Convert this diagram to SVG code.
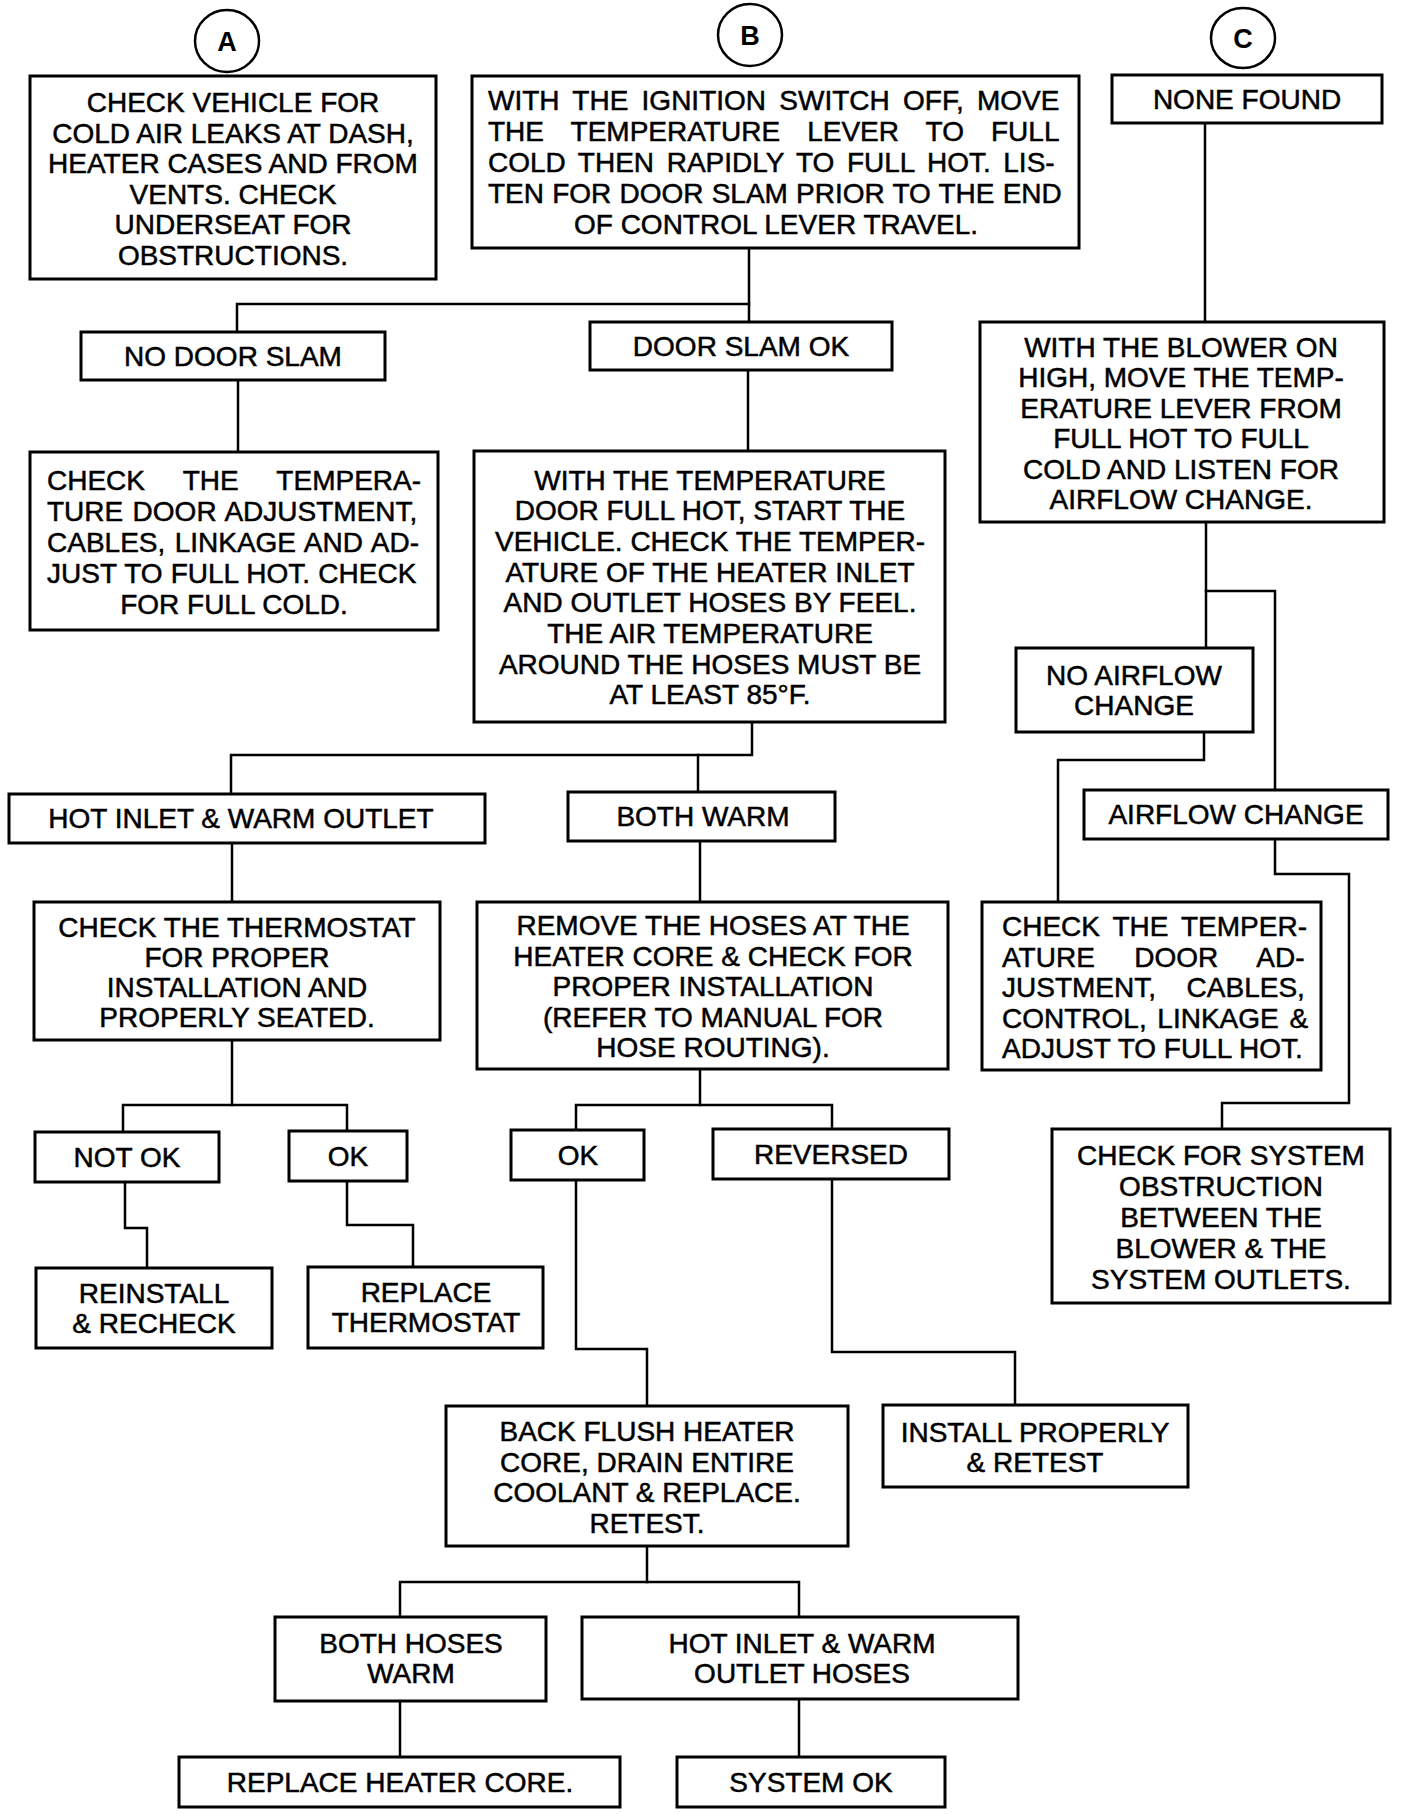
<svg xmlns="http://www.w3.org/2000/svg" width="1408" height="1814" viewBox="0 0 1408 1814">
<style>
.box{fill:#fff;stroke:#000;stroke-width:3}
.cir{fill:#fff;stroke:#000;stroke-width:2.5}
.c{fill:none;stroke:#000;stroke-width:2.5;stroke-linejoin:miter;stroke-linecap:square}
text{font-family:"Liberation Sans",Arial,Helvetica,sans-serif;font-size:28px;fill:#000;stroke:#000;stroke-width:0.5}
.m{text-anchor:middle}
.l{text-anchor:start}
.lt{font-weight:bold;font-size:27px;text-anchor:middle;stroke-width:0}
</style>
<rect width="1408" height="1814" fill="#fff"/>
<g id="connectors">
<polyline class="c" points="749,248 749,322"/>
<polyline class="c" points="749,304 237,304 237,332"/>
<polyline class="c" points="238,380 238,452"/>
<polyline class="c" points="748,370 748,451"/>
<polyline class="c" points="752,722 752,755 231,755 231,794"/>
<polyline class="c" points="698,755 698,792"/>
<polyline class="c" points="232,843 232,902"/>
<polyline class="c" points="700,841 700,902"/>
<polyline class="c" points="232,1040 232,1105"/>
<polyline class="c" points="123,1132 123,1105 347,1105 347,1131"/>
<polyline class="c" points="125,1182 125,1228 147,1228 147,1268"/>
<polyline class="c" points="347,1181 347,1225 413,1225 413,1267"/>
<polyline class="c" points="700,1069 700,1105"/>
<polyline class="c" points="576,1130 576,1105 832,1105 832,1129"/>
<polyline class="c" points="576,1180 576,1349 647,1349 647,1406"/>
<polyline class="c" points="832,1179 832,1352 1015,1352 1015,1405"/>
<polyline class="c" points="647,1546 647,1582"/>
<polyline class="c" points="400,1617 400,1582 799,1582 799,1617"/>
<polyline class="c" points="400,1701 400,1757"/>
<polyline class="c" points="799,1699 799,1757"/>
<polyline class="c" points="1205,123 1205,322"/>
<polyline class="c" points="1206,522 1206,648"/>
<polyline class="c" points="1206,591 1275,591 1275,790"/>
<polyline class="c" points="1204,732 1204,760 1058,760 1058,902"/>
<polyline class="c" points="1275,839 1275,874 1349,874 1349,1103 1222,1103 1222,1129"/>
</g>
<g id="circleA"><ellipse class="cir" cx="227" cy="41" rx="32" ry="31"/><text class="lt" x="227" y="51">A</text></g>
<g id="circleB"><ellipse class="cir" cx="750" cy="35" rx="32" ry="31"/><text class="lt" x="750" y="45">B</text></g>
<g id="circleC"><ellipse class="cir" cx="1243" cy="38" rx="32" ry="30"/><text class="lt" x="1243" y="48">C</text></g>

<g id="checkVehicle"><rect class="box" x="30" y="76" width="406" height="203"/>
<text class="m" x="233"><tspan x="233" y="112">CHECK VEHICLE FOR</tspan><tspan x="233" y="143">COLD AIR LEAKS AT DASH,</tspan><tspan x="233" y="173">HEATER CASES AND FROM</tspan><tspan x="233" y="204">VENTS. CHECK</tspan><tspan x="233" y="234">UNDERSEAT FOR</tspan><tspan x="233" y="265">OBSTRUCTIONS.</tspan></text></g>

<g id="ignitionOff"><rect class="box" x="472" y="76" width="607" height="172"/>
<text class="l" x="488" y="110" style="word-spacing:5.5px">WITH THE IGNITION SWITCH OFF, MOVE</text>
<text class="l" x="488" y="141" style="word-spacing:19.3px">THE TEMPERATURE LEVER TO FULL</text>
<text class="l" x="488" y="172" style="word-spacing:4.8px">COLD THEN RAPIDLY TO FULL HOT. LIS-</text>
<text class="l" x="488" y="203" style="word-spacing:0.4px">TEN FOR DOOR SLAM PRIOR TO THE END</text>
<text class="m" x="776" y="234">OF CONTROL LEVER TRAVEL.</text></g>

<g id="noneFound"><rect class="box" x="1112" y="75" width="270" height="48"/><text class="m" x="1247" y="109">NONE FOUND</text></g>

<g id="noDoorSlam"><rect class="box" x="81" y="332" width="304" height="48"/><text class="m" x="233" y="366">NO DOOR SLAM</text></g>

<g id="doorSlamOk"><rect class="box" x="590" y="322" width="302" height="48"/><text class="m" x="741" y="356">DOOR SLAM OK</text></g>

<g id="blowerOn"><rect class="box" x="980" y="322" width="404" height="200"/>
<text class="m"><tspan x="1181" y="357">WITH THE BLOWER ON</tspan><tspan x="1181" y="387">HIGH, MOVE THE TEMP-</tspan><tspan x="1181" y="418">ERATURE LEVER FROM</tspan><tspan x="1181" y="448">FULL HOT TO FULL</tspan><tspan x="1181" y="479">COLD AND LISTEN FOR</tspan><tspan x="1181" y="509">AIRFLOW CHANGE.</tspan></text></g>

<g id="checkTempDoorA"><rect class="box" x="30" y="452" width="408" height="178"/>
<text class="l" x="47" y="490" style="word-spacing:30.4px">CHECK THE TEMPERA-</text>
<text class="l" x="47" y="521" style="word-spacing:1.6px">TURE DOOR ADJUSTMENT,</text>
<text class="l" x="47" y="552" style="word-spacing:1.6px">CABLES, LINKAGE AND AD-</text>
<text class="l" x="47" y="583" style="word-spacing:0.4px">JUST TO FULL HOT. CHECK</text>
<text class="m" x="234" y="614">FOR FULL COLD.</text></g>

<g id="doorFullHot"><rect class="box" x="474" y="451" width="471" height="271"/>
<text class="m"><tspan x="710" y="490">WITH THE TEMPERATURE</tspan><tspan x="710" y="520">DOOR FULL HOT, START THE</tspan><tspan x="710" y="551">VEHICLE. CHECK THE TEMPER-</tspan><tspan x="710" y="582">ATURE OF THE HEATER INLET</tspan><tspan x="710" y="612">AND OUTLET HOSES BY FEEL.</tspan><tspan x="710" y="643">THE AIR TEMPERATURE</tspan><tspan x="710" y="674">AROUND THE HOSES MUST BE</tspan><tspan x="710" y="704">AT LEAST 85°F.</tspan></text></g>

<g id="noAirflow"><rect class="box" x="1016" y="648" width="237" height="84"/>
<text class="m"><tspan x="1134" y="685">NO AIRFLOW</tspan><tspan x="1134" y="715">CHANGE</tspan></text></g>

<g id="hotInletWarmOutlet"><rect class="box" x="9" y="794" width="476" height="49"/><text class="m" x="241" y="828">HOT INLET &amp; WARM OUTLET</text></g>

<g id="bothWarm"><rect class="box" x="568" y="792" width="267" height="49"/><text class="m" x="703" y="826">BOTH WARM</text></g>

<g id="airflowChange"><rect class="box" x="1084" y="790" width="304" height="49"/><text class="m" x="1236" y="824">AIRFLOW CHANGE</text></g>

<g id="checkThermostat"><rect class="box" x="34" y="902" width="406" height="138"/>
<text class="m"><tspan x="237" y="937">CHECK THE THERMOSTAT</tspan><tspan x="237" y="967">FOR PROPER</tspan><tspan x="237" y="997">INSTALLATION AND</tspan><tspan x="237" y="1027">PROPERLY SEATED.</tspan></text></g>

<g id="removeHoses"><rect class="box" x="477" y="902" width="471" height="167"/>
<text class="m"><tspan x="713" y="935">REMOVE THE HOSES AT THE</tspan><tspan x="713" y="966">HEATER CORE &amp; CHECK FOR</tspan><tspan x="713" y="996">PROPER INSTALLATION</tspan><tspan x="713" y="1027">(REFER TO MANUAL FOR</tspan><tspan x="713" y="1057">HOSE ROUTING).</tspan></text></g>

<g id="checkTempDoorC"><rect class="box" x="982" y="902" width="339" height="168"/>
<text class="l" x="1002" y="936" style="word-spacing:5.2px">CHECK THE TEMPER-</text>
<text class="l" x="1002" y="967" style="word-spacing:31.7px">ATURE DOOR AD-</text>
<text class="l" x="1002" y="997" style="word-spacing:22.8px">JUSTMENT, CABLES,</text>
<text class="l" x="1002" y="1028" style="word-spacing:2.9px">CONTROL, LINKAGE &amp;</text>
<text class="l" x="1002" y="1058">ADJUST TO FULL HOT.</text></g>

<g id="notOk"><rect class="box" x="35" y="1132" width="184" height="50"/><text class="m" x="127" y="1167">NOT OK</text></g>
<g id="okThermostat"><rect class="box" x="289" y="1131" width="118" height="50"/><text class="m" x="348" y="1166">OK</text></g>
<g id="okHoses"><rect class="box" x="511" y="1130" width="133" height="50"/><text class="m" x="578" y="1165">OK</text></g>
<g id="reversed"><rect class="box" x="713" y="1129" width="236" height="50"/><text class="m" x="831" y="1164">REVERSED</text></g>

<g id="systemObstruction"><rect class="box" x="1052" y="1129" width="338" height="174"/>
<text class="m"><tspan x="1221" y="1165">CHECK FOR SYSTEM</tspan><tspan x="1221" y="1196">OBSTRUCTION</tspan><tspan x="1221" y="1227">BETWEEN THE</tspan><tspan x="1221" y="1258">BLOWER &amp; THE</tspan><tspan x="1221" y="1289">SYSTEM OUTLETS.</tspan></text></g>

<g id="reinstall"><rect class="box" x="36" y="1268" width="236" height="80"/>
<text class="m"><tspan x="154" y="1303">REINSTALL</tspan><tspan x="154" y="1333">&amp; RECHECK</tspan></text></g>

<g id="replaceThermostat"><rect class="box" x="308" y="1267" width="235" height="81"/>
<text class="m"><tspan x="426" y="1302">REPLACE</tspan><tspan x="426" y="1332">THERMOSTAT</tspan></text></g>

<g id="backFlush"><rect class="box" x="446" y="1406" width="402" height="140"/>
<text class="m"><tspan x="647" y="1441">BACK FLUSH HEATER</tspan><tspan x="647" y="1472">CORE, DRAIN ENTIRE</tspan><tspan x="647" y="1502">COOLANT &amp; REPLACE.</tspan><tspan x="647" y="1533">RETEST.</tspan></text></g>

<g id="installProperly"><rect class="box" x="883" y="1405" width="305" height="82"/>
<text class="m"><tspan x="1035" y="1442">INSTALL PROPERLY</tspan><tspan x="1035" y="1472">&amp; RETEST</tspan></text></g>

<g id="bothHosesWarm"><rect class="box" x="275" y="1617" width="271" height="84"/>
<text class="m"><tspan x="411" y="1653">BOTH HOSES</tspan><tspan x="411" y="1683">WARM</tspan></text></g>

<g id="hotInletHoses"><rect class="box" x="582" y="1617" width="436" height="82"/>
<text class="m"><tspan x="802" y="1653">HOT INLET &amp; WARM</tspan><tspan x="802" y="1683">OUTLET HOSES</tspan></text></g>

<g id="replaceHeaterCore"><rect class="box" x="179" y="1757" width="441" height="50"/><text class="m" x="400" y="1792">REPLACE HEATER CORE.</text></g>

<g id="systemOk"><rect class="box" x="677" y="1757" width="268" height="50"/><text class="m" x="811" y="1792">SYSTEM OK</text></g>
</svg>
